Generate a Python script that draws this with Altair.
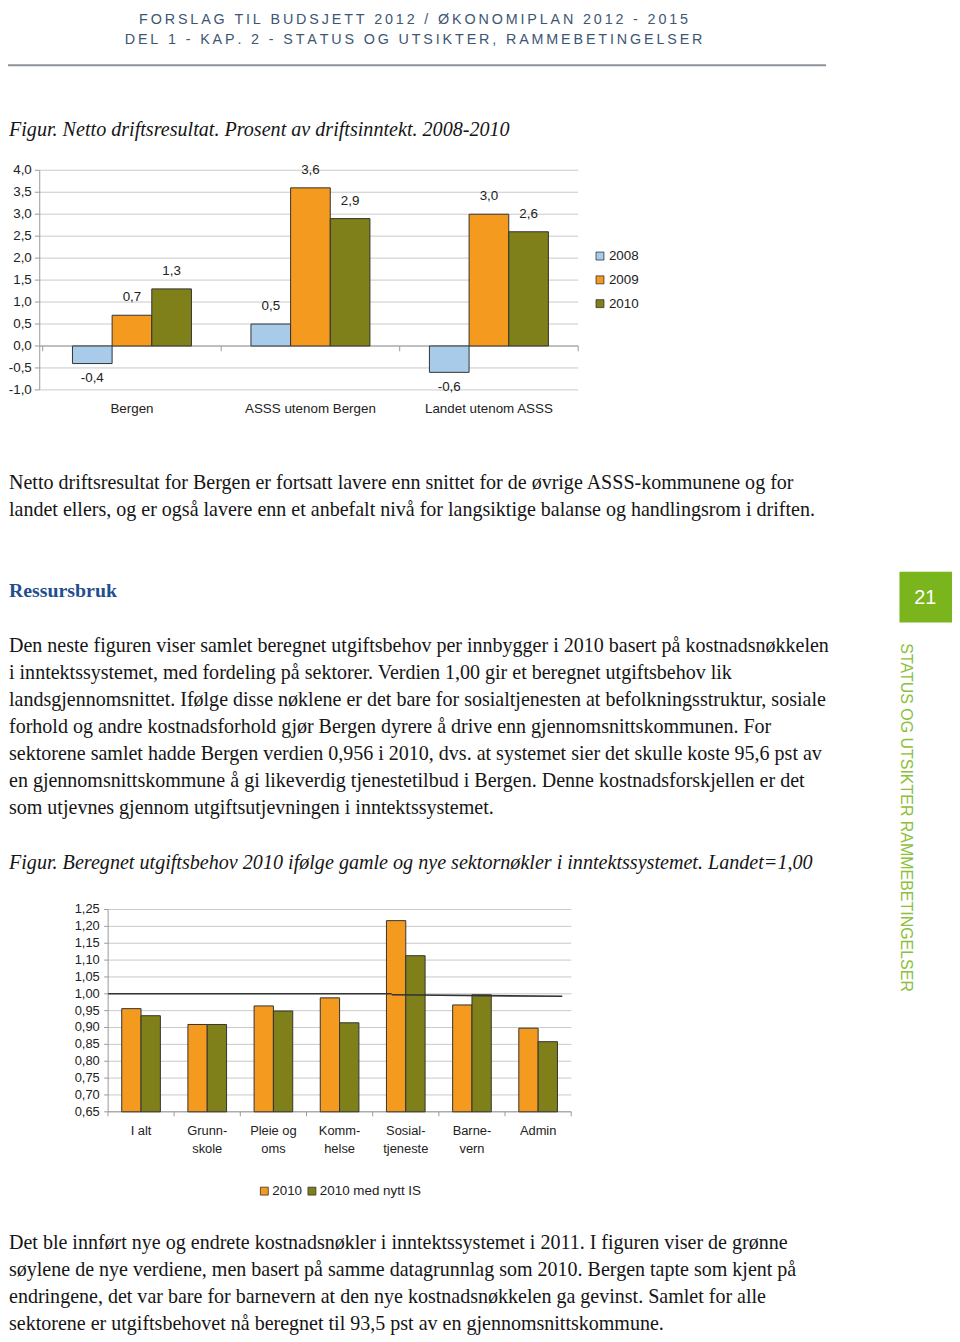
import altair as alt
import pandas as pd

# ---------------- data ----------------
header_line1 = "FORSLAG TIL BUDSJETT 2012 / ØKONOMIPLAN 2012 - 2015"
header_line2 = "DEL 1 - KAP. 2 - STATUS OG UTSIKTER, RAMMEBETINGELSER"

caption1 = "Figur. Netto driftsresultat. Prosent av driftsinntekt. 2008-2010"
c1_categories = ["Bergen", "ASSS utenom Bergen", "Landet utenom ASSS"]
c1_series = ["2008", "2009", "2010"]
c1_values_2008 = [-0.4, 0.5, -0.6]
c1_values_2009 = [0.7, 3.6, 3.0]
c1_values_2010 = [1.3, 2.9, 2.6]
c1_ticks = [4.0, 3.5, 3.0, 2.5, 2.0, 1.5, 1.0, 0.5, 0.0, -0.5, -1.0]
c1_tick_labels = ["4,0", "3,5", "3,0", "2,5", "2,0", "1,5", "1,0", "0,5", "0,0", "-0,5", "-1,0"]
c1_colors = ["#a7cbe9", "#f39a1f", "#7f8019"]

para1 = [
    "Netto driftsresultat for Bergen er fortsatt lavere enn snittet for de øvrige ASSS-kommunene og for",
    "landet ellers, og er også lavere enn et anbefalt nivå for langsiktige balanse og handlingsrom i driften.",
]
heading = "Ressursbruk"
para2 = [
    "Den neste figuren viser samlet beregnet utgiftsbehov per innbygger i 2010 basert på kostnadsnøkkelen",
    "i inntektssystemet, med fordeling på sektorer. Verdien 1,00 gir et beregnet utgiftsbehov lik",
    "landsgjennomsnittet. Ifølge disse nøklene er det bare for sosialtjenesten at befolkningsstruktur, sosiale",
    "forhold og andre kostnadsforhold gjør Bergen dyrere å drive enn gjennomsnittskommunen. For",
    "sektorene samlet hadde Bergen verdien 0,956 i 2010, dvs. at systemet sier det skulle koste 95,6 pst av",
    "en gjennomsnittskommune å gi likeverdig tjenestetilbud i Bergen. Denne kostnadsforskjellen er det",
    "som utjevnes gjennom utgiftsutjevningen i inntektssystemet.",
]
caption2 = "Figur. Beregnet utgiftsbehov 2010 ifølge gamle og nye sektornøkler i inntektssystemet. Landet=1,00"

c2_categories = ["I alt", "Grunnskole", "Pleie og oms", "Kommhelse", "Sosialtjeneste", "Barnevern", "Admin"]
c2_label_line1 = ["I alt", "Grunn-", "Pleie og", "Komm-", "Sosial-", "Barne-", "Admin"]
c2_label_line2 = ["", "skole", "oms", "helse", "tjeneste", "vern", ""]
c2_series = ["2010", "2010 med nytt IS"]
c2_values_2010 = [0.956, 0.909, 0.964, 0.988, 1.217, 0.967, 0.898]
c2_values_nytt = [0.935, 0.909, 0.949, 0.914, 1.113, 0.997, 0.858]
c2_ticks = [1.25, 1.20, 1.15, 1.10, 1.05, 1.00, 0.95, 0.90, 0.85, 0.80, 0.75, 0.70, 0.65]
c2_tick_labels = ["1,25", "1,20", "1,15", "1,10", "1,05", "1,00", "0,95", "0,90", "0,85",
                  "0,80", "0,75", "0,70", "0,65"]
c2_colors = ["#f39a1f", "#7f8019"]
c2_reference_level = [1.0, 0.997, 0.9925]

para3 = [
    "Det ble innført nye og endrete kostnadsnøkler i inntektssystemet i 2011. I figuren viser de grønne",
    "søylene de nye verdiene, men basert på samme datagrunnlag som 2010.  Bergen tapte som kjent på",
    "endringene, det var bare for barnevern at den nye kostnadsnøkkelen ga gevinst. Samlet for alle",
    "sektorene er utgiftsbehovet nå beregnet til 93,5 pst av en gjennomsnittskommune.",
]
page_number = "21"
side_text = "STATUS OG UTSIKTER RAMMEBETINGELSER"

# ---------------- layout helpers ----------------
W, H = 952, 1334
OX, OY = 8, 8


def X(p):
    return p - OX


def Y(p):
    return p - OY


ONE = pd.DataFrame({"k": [0]})
SERIF = "Liberation Serif"
SANS = "Liberation Sans"
TXT = "#151515"
GRID = "#c9c9c9"
AXIS = "#9a9a9a"
BODY = 20.2
LEFT = 9


def text_block(lines, x, y_center, size, font=SERIF, color=TXT, style="normal",
               weight="normal", lh=27.33, align="left"):
    return alt.Chart(ONE).mark_text(
        text=lines, font=font, fontSize=size, fontStyle=style, fontWeight=weight,
        color=color, align=align, baseline="alphabetic", lineHeight=lh,
    ).encode(x=alt.value(X(x)), y=alt.value(Y(y_center) + 0.32 * size))


def spaced(s):
    return "\u2009".join(list(s))


layers = []

# header
layers.append(text_block(spaced(header_line1), 417, 13.5, 14.45, font=SANS, color="#3d5674", align="center"))
layers.append(text_block(spaced(header_line2), 417, 34, 14.45, font=SANS, color="#3d5674", align="center"))
layers.append(alt.Chart(ONE).mark_rule(color="#8d939b", strokeWidth=2).encode(
    x=alt.value(0), x2=alt.value(X(833)), y=alt.value(Y(60))))

# ---------------- chart 1 ----------------
rows = []
for i, c in enumerate(c1_categories):
    for j, (s, vals) in enumerate(zip(c1_series, [c1_values_2008, c1_values_2009, c1_values_2010])):
        v = vals[i]
        rows.append({"cat": c, "series": s, "value": v,
                     "pos": i + (j - 1) * (2 / 9),
                     "label": f"{v:.1f}".replace(".", ",")})
df1 = pd.DataFrame(rows)
ticks1 = pd.DataFrame({"v": c1_ticks, "lab": c1_tick_labels})

sx1 = alt.Scale(domain=c1_categories, range=[X(43), X(583)], paddingInner=1 / 3, paddingOuter=1 / 6)
sx1q = alt.Scale(domain=[-0.5, 2.5], range=[X(43), X(583)])
sxo1 = alt.Scale(domain=c1_series, paddingInner=0, paddingOuter=0)
sy1 = alt.Scale(domain=[-1, 4], range=[Y(387.5), Y(166)], nice=False, zero=False)
sc1 = alt.Scale(domain=c1_series, range=c1_colors)

layers.append(text_block(caption1, LEFT, 125, 20.3, style="italic"))

# gridlines
layers.append(alt.Chart(ticks1).mark_rule(color=GRID, strokeWidth=1).encode(
    y=alt.Y("v:Q", scale=sy1, axis=None), x=alt.value(X(40)), x2=alt.value(X(583))))
# tick marks
layers.append(alt.Chart(ticks1).mark_rule(color=AXIS, strokeWidth=1).encode(
    y=alt.Y("v:Q", scale=sy1, axis=None), x=alt.value(X(35)), x2=alt.value(X(40))))
# y axis line
layers.append(alt.Chart(ONE).mark_rule(color=AXIS, strokeWidth=1).encode(
    x=alt.value(X(40)), y=alt.Y(datum=4.0, scale=sy1, axis=None), y2=alt.Y2(datum=-1.0)))
# zero line
layers.append(alt.Chart(ONE).mark_rule(color=AXIS, strokeWidth=1).encode(
    y=alt.Y(datum=0.0, scale=sy1, axis=None), x=alt.value(X(40)), x2=alt.value(X(583))))
# category boundary ticks on zero line
layers.append(alt.Chart(pd.DataFrame({"b": [0, 1, 2, 3]})).mark_rule(color=AXIS).encode(
    x=alt.X("b:Q", scale=alt.Scale(domain=[0, 3], range=[X(43), X(583)]), axis=None),
    y=alt.Y(datum=0.0, scale=sy1, axis=None), y2=alt.value(Y(348.5))))
# tick labels
layers.append(alt.Chart(ticks1).mark_text(font=SANS, fontSize=13.5, color="#222", align="right",
                                         baseline="middle").encode(
    y=alt.Y("v:Q", scale=sy1, axis=None), x=alt.value(X(32)), text="lab:N"))
# bars
layers.append(alt.Chart(df1).mark_bar(stroke="#333333", strokeWidth=1).encode(
    x=alt.X("cat:N", scale=sx1, axis=None),
    xOffset=alt.XOffset("series:N", scale=sxo1),
    y=alt.Y("value:Q", scale=sy1, axis=None),
    y2=alt.Y2(datum=0),
    fill=alt.Fill("series:N", scale=sc1, legend=None)))
# value labels
for cond, dy in [("datum.value >= 0", -18), ("datum.value < 0", 15)]:
    layers.append(alt.Chart(df1).transform_filter(cond).mark_text(
        font=SANS, fontSize=13.5, color="#222", baseline="middle", dy=dy).encode(
        x=alt.X("pos:Q", scale=sx1q, axis=None),
        y=alt.Y("value:Q", scale=sy1, axis=None),
        text="label:N"))
# category labels
layers.append(alt.Chart(pd.DataFrame({"cat": c1_categories})).mark_text(
    font=SANS, fontSize=13.5, color="#222", baseline="middle").encode(
    x=alt.X("cat:N", scale=sx1, axis=None), y=alt.value(Y(407)), text="cat:N"))
# legend
leg1 = pd.DataFrame({"series": c1_series})
sly1 = alt.Scale(domain=c1_series, range=[Y(252.5), Y(300.5)], padding=0)
layers.append(alt.Chart(leg1).mark_square(size=64, stroke="#333", strokeWidth=0.8, opacity=1).encode(
    y=alt.Y("series:N", scale=sly1, axis=None), x=alt.value(X(605)),
    fill=alt.Fill("series:N", scale=sc1, legend=None)))
layers.append(alt.Chart(leg1).mark_text(font=SANS, fontSize=13.5, color="#222", align="left",
                                       baseline="middle").encode(
    y=alt.Y("series:N", scale=sly1, axis=None), x=alt.value(X(614)), text="series:N"))

# ---------------- text between ----------------
layers.append(text_block(para1, LEFT, 481, BODY))
layers.append(text_block(heading, LEFT, 590, 20, color="#1f4f8f", weight="bold"))
layers.append(text_block(para2, LEFT, 645, BODY))
layers.append(text_block(caption2, LEFT, 864, 20.3, style="italic"))

# side tab
layers.append(alt.Chart(ONE).mark_rect(color="#7ab51d").encode(
    x=alt.value(X(907)), x2=alt.value(X(960)), y=alt.value(Y(571)), y2=alt.value(Y(622))))
layers.append(text_block(page_number, 933, 597, 20, font=SANS, color="white", align="center"))
layers.append(alt.Chart(ONE).mark_text(text=side_text, font=SANS, fontSize=16.1, color="#8bbf3c",
                                       angle=90, align="left", baseline="middle").encode(
    x=alt.value(X(914)), y=alt.value(Y(643))))

# ---------------- chart 2 ----------------
rows = []
for i, c in enumerate(c2_categories):
    for s, vals in zip(c2_series, [c2_values_2010, c2_values_nytt]):
        rows.append({"cat": c, "series": s, "value": vals[i]})
df2 = pd.DataFrame(rows)
ticks2 = pd.DataFrame({"v": c2_ticks, "lab": c2_tick_labels})
sx2 = alt.Scale(domain=c2_categories, range=[X(108.8), X(576)], paddingInner=0.416, paddingOuter=0.208)
sxo2 = alt.Scale(domain=c2_series, paddingInner=0, paddingOuter=0)
sy2 = alt.Scale(domain=[0.65, 1.25], range=[Y(1115.5), Y(911.5)], nice=False, zero=False)
sc2 = alt.Scale(domain=c2_series, range=c2_colors)

layers.append(alt.Chart(ticks2).mark_rule(color=GRID, strokeWidth=1).encode(
    y=alt.Y("v:Q", scale=sy2, axis=None), x=alt.value(X(109)), x2=alt.value(X(576))))
layers.append(alt.Chart(ticks2).mark_rule(color=AXIS, strokeWidth=1).encode(
    y=alt.Y("v:Q", scale=sy2, axis=None), x=alt.value(X(105)), x2=alt.value(X(109))))
layers.append(alt.Chart(ONE).mark_rule(color=AXIS, strokeWidth=1).encode(
    x=alt.value(X(109)), y=alt.Y(datum=1.25, scale=sy2, axis=None), y2=alt.Y2(datum=0.65)))
layers.append(alt.Chart(ONE).mark_rule(color=AXIS, strokeWidth=1).encode(
    y=alt.Y(datum=0.65, scale=sy2, axis=None), x=alt.value(X(109)), x2=alt.value(X(576))))
layers.append(alt.Chart(pd.DataFrame({"b": list(range(8))})).mark_rule(color=AXIS).encode(
    x=alt.X("b:Q", scale=alt.Scale(domain=[0, 7], range=[X(108.8), X(576)]), axis=None),
    y=alt.Y(datum=0.65, scale=sy2, axis=None), y2=alt.value(Y(1120))))
layers.append(alt.Chart(ticks2).mark_text(font=SANS, fontSize=13, color="#222", align="right",
                                         baseline="middle").encode(
    y=alt.Y("v:Q", scale=sy2, axis=None), x=alt.value(X(100.5)), text="lab:N"))
layers.append(alt.Chart(df2).mark_bar(stroke="#333333", strokeWidth=1).encode(
    x=alt.X("cat:N", scale=sx2, axis=None),
    xOffset=alt.XOffset("series:N", scale=sxo2),
    y=alt.Y("value:Q", scale=sy2, axis=None),
    y2=alt.Y2(datum=0.65),
    fill=alt.Fill("series:N", scale=sc2, legend=None)))
# reference line (Landet = 1,00)
layers.append(alt.Chart(ONE).mark_rule(color="#333", strokeWidth=1.6).encode(
    y=alt.Y(datum=c2_reference_level[0], scale=sy2, axis=None),
    x=alt.value(X(109)), x2=alt.value(X(395))))
layers.append(alt.Chart(ONE).mark_rule(color="#333", strokeWidth=1.6).encode(
    y=alt.Y(datum=c2_reference_level[1], scale=sy2, axis=None),
    y2=alt.Y2(datum=c2_reference_level[2]),
    x=alt.value(X(395)), x2=alt.value(X(567))))
# category labels
lab2 = pd.DataFrame({"cat": c2_categories, "l1": c2_label_line1, "l2": c2_label_line2})
for col, yy in [("l1", 1135), ("l2", 1153)]:
    layers.append(alt.Chart(lab2).mark_text(font=SANS, fontSize=13, color="#222",
                                           baseline="middle").encode(
        x=alt.X("cat:N", scale=sx2, axis=None), y=alt.value(Y(yy)), text=f"{col}:N"))
# legend
leg2 = pd.DataFrame({"series": c2_series})
slx2 = alt.Scale(domain=c2_series, range=[X(266.5), X(314.5)], padding=0)
layers.append(alt.Chart(leg2).mark_square(size=64, stroke="#333", strokeWidth=0.8, opacity=1).encode(
    x=alt.X("series:N", scale=slx2, axis=None), y=alt.value(Y(1195.5)),
    fill=alt.Fill("series:N", scale=sc2, legend=None)))
layers.append(alt.Chart(leg2).mark_text(font=SANS, fontSize=13.5, color="#222", align="left",
                                       baseline="middle", dx=8).encode(
    x=alt.X("series:N", scale=slx2, axis=None), y=alt.value(Y(1195.5)), text="series:N"))

layers.append(text_block(para3, LEFT, 1247, BODY))

chart = alt.layer(*layers).resolve_scale(
    x="independent", y="independent", xOffset="independent", fill="independent"
).properties(
    width=W, height=H, autosize=alt.AutoSizeParams(type="none"), padding=0
).configure_view(stroke=None)

chart.save("out.html", embed_options={"renderer": "svg", "actions": False})
